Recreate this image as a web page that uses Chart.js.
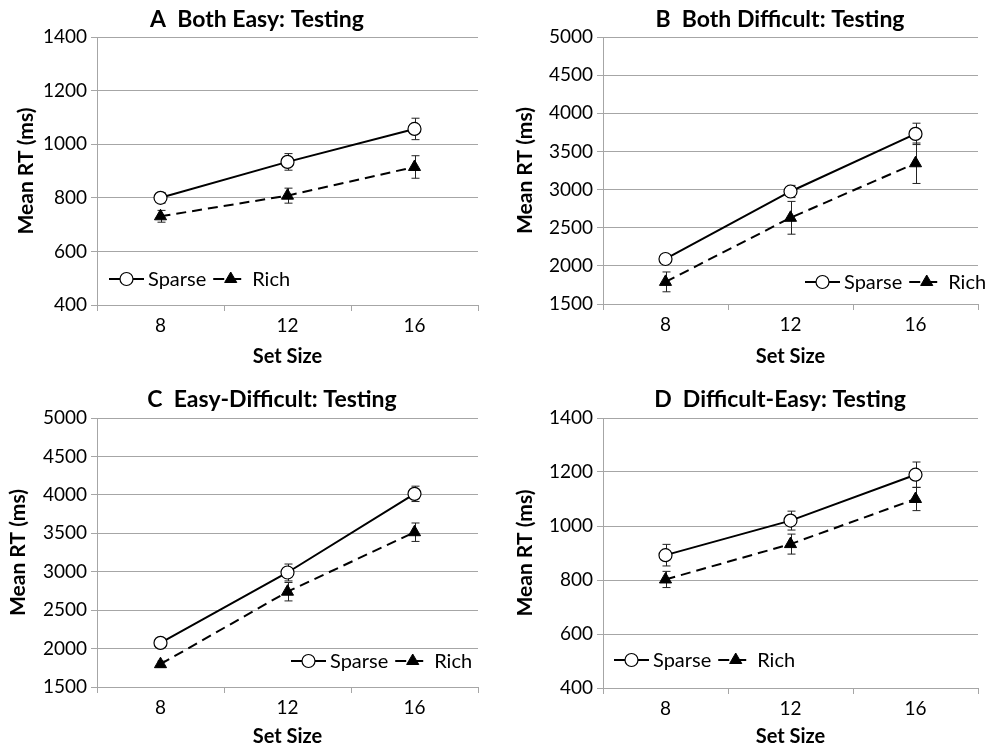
<!DOCTYPE html>
<html>
<head>
<meta charset="utf-8">
<script src="https://cdn.jsdelivr.net/npm/chart.js@4.4.1/dist/chart.umd.min.js"></script>
<style>
  body { margin: 0; background: #fff; }
  .panel { position: absolute; }
</style>
</head>
<body>
<div class="panel" style="left:0;top:0"><canvas id="chartA" width="493" height="375"></canvas></div>
<div class="panel" style="left:493px;top:0"><canvas id="chartB" width="493" height="375"></canvas></div>
<div class="panel" style="left:0;top:375px"><canvas id="chartC" width="493" height="376"></canvas></div>
<div class="panel" style="left:493px;top:375px"><canvas id="chartD" width="493" height="376"></canvas></div>
<script>
const setSizes = ["8", "12", "16"];

// A  Both Easy
const sparseA = [800, 934, 1057];
const sparseErrA = [20, 31, 40];
const richA = [731, 808, 915];
const richErrA = [22, 28, 42];

// B  Both Difficult
const sparseB = [2090, 2975, 3730];
const sparseErrB = [35, 80, 140];
const richB = [1790, 2630, 3345];
const richErrB = [130, 215, 265];

// C  Easy-Difficult
const sparseC = [2074, 2990, 4013];
const sparseErrC = [40, 110, 100];
const richC = [1797, 2740, 3514];
const richErrC = [40, 120, 120];

// D  Difficult-Easy
const sparseD = [892, 1020, 1190];
const sparseErrD = [40, 35, 47];
const richD = [802, 933, 1100];
const richErrD = [30, 37, 43];

const fastTicks = [400, 1400, 200];
const slowTicks = [1500, 5000, 500];

const FONT = "Lato, 'Open Sans', sans-serif";
const GRID = "#a6a6a6";

const errorBars = {
    id: "errorBars",
    beforeDatasetsDraw(chart) {
        const ctx = chart.ctx;
        const y = chart.scales.y;
        ctx.save();
        ctx.strokeStyle = "#222";
        ctx.lineWidth = 1;
        chart.data.datasets.forEach((ds, i) => {
            const meta = chart.getDatasetMeta(i);
            meta.data.forEach((pt, j) => {
                const hi = y.getPixelForValue(ds.data[j] + ds.errors[j]);
                const lo = y.getPixelForValue(ds.data[j] - ds.errors[j]);
                const x = Math.round(pt.x) + 0.5;
                ctx.beginPath();
                ctx.moveTo(x, hi); ctx.lineTo(x, lo);
                ctx.moveTo(x - 4, hi); ctx.lineTo(x + 4, hi);
                ctx.moveTo(x - 4, lo); ctx.lineTo(x + 4, lo);
                ctx.stroke();
            });
        });
        ctx.restore();
    }
};

function drawMarker(ctx, ds, x, y) {
    ctx.save();
    ctx.lineWidth = ds.pointBorderWidth;
    ctx.strokeStyle = ds.borderColor;
    ctx.fillStyle = ds.pointBackgroundColor;
    ctx.beginPath();
    const r = ds.pointRadius;
    if (ds.pointStyle === "circle") {
        ctx.arc(x, y, r, 0, Math.PI * 2);
    } else {
        const h = r * 1.5;
        ctx.moveTo(x, y - h * 2 / 3);
        ctx.lineTo(x + r * 0.87, y + h / 3);
        ctx.lineTo(x - r * 0.87, y + h / 3);
        ctx.closePath();
    }
    ctx.fill();
    ctx.stroke();
    ctx.restore();
}

const panelDecor = {
    id: "panelDecor",
    afterDraw(chart, args, opts) {
        const ctx = chart.ctx;
        ctx.save();
        ctx.fillStyle = "#000";
        ctx.font = "bold 23px " + FONT;
        ctx.textAlign = "center";
        ctx.textBaseline = "middle";
        ctx.fillText(opts.title, opts.titleX, opts.titleY);

        // legend: line sample with marker, then label
        ctx.font = "20px " + FONT;
        ctx.textAlign = "left";
        let x = opts.legendX;
        const y = opts.legendY;
        chart.data.datasets.forEach(ds => {
            const len = ds.borderDash ? 30 : 35;
            ctx.save();
            ctx.strokeStyle = ds.borderColor;
            ctx.lineWidth = ds.borderWidth;
            ctx.setLineDash(ds.borderDash ? [11, 6] : []);
            ctx.beginPath();
            ctx.moveTo(x, y); ctx.lineTo(x + len, y);
            ctx.stroke();
            ctx.restore();
            drawMarker(ctx, ds, x + 17.5, y);
            ctx.fillText(ds.label, x + 39, y + 1);
            x += 39 + ctx.measureText(ds.label).width + 7;
        });
        ctx.restore();
    }
};

function makePanel(id, title, ticks, sparse, sparseErr, rich, richErr, box) {
    new Chart(document.getElementById(id), {
        type: "line",
        data: {
            labels: setSizes,
            datasets: [
                {
                    label: "Sparse",
                    data: sparse,
                    errors: sparseErr,
                    borderColor: "#000",
                    borderWidth: 2,
                    pointStyle: "circle",
                    pointRadius: 6.5,
                    pointBorderWidth: 1.2,
                    pointBackgroundColor: "#fff",
                    pointBorderColor: "#000",
                },
                {
                    label: "Rich",
                    data: rich,
                    errors: richErr,
                    borderColor: "#000",
                    borderWidth: 2,
                    borderDash: [10, 6],
                    pointStyle: "triangle",
                    pointRadius: 7,
                    pointBorderWidth: 1,
                    pointBackgroundColor: "#000",
                    pointBorderColor: "#000",
                },
            ],
        },
        options: {
            responsive: false,
            animation: false,
            events: [],
            layout: { padding: { top: box.top, left: 0, right: box.right, bottom: 0 } },
            plugins: {
                legend: { display: false },
                title: { display: false },
                tooltip: { enabled: false },
                panelDecor: {
                    title: title,
                    titleX: box.titleX,
                    titleY: box.titleY,
                    legendX: box.legendX,
                    legendY: box.legendY,
                },
            },
            scales: {
                x: {
                    type: "category",
                    offset: true,
                    grid: { offset: true, drawOnChartArea: false, tickLength: 6, color: GRID },
                    border: { color: GRID },
                    ticks: { color: "#000", font: { family: FONT, size: 19 }, padding: 3 },
                    title: {
                        display: true,
                        text: "Set Size",
                        color: "#000",
                        font: { family: FONT, size: 20, weight: "bold" },
                        padding: { top: 0, bottom: box.xTitlePad },
                    },
                    afterFit(scale) { scale.height = box.xHeight; },
                },
                y: {
                    min: ticks[0],
                    max: ticks[1],
                    ticks: {
                        stepSize: ticks[2],
                        color: "#000",
                        font: { family: FONT, size: 19 },
                        padding: 4,
                        callback: v => String(v),
                    },
                    grid: { color: GRID, tickLength: 6 },
                    border: { color: GRID },
                    title: {
                        display: true,
                        text: "Mean RT (ms)",
                        color: "#000",
                        font: { family: FONT, size: 21, weight: "bold" },
                        padding: { top: box.yTitlePad, bottom: 0 },
                    },
                    afterFit(scale) { scale.width = box.yWidth; },
                },
            },
        },
        plugins: [errorBars, panelDecor],
    });
}

makePanel("chartA", "A  Both Easy: Testing", fastTicks, sparseA, sparseErrA, richA, richErrA,
    { top: 37, right: 15, yWidth: 97, xHeight: 70, xTitlePad: 6, yTitlePad: 14,
      titleX: 257, titleY: 20, legendX: 109, legendY: 279 });
makePanel("chartB", "B  Both Difficult: Testing", slowTicks, sparseB, sparseErrB, richB, richErrB,
    { top: 37, right: 1, yWidth: 110, xHeight: 71, xTitlePad: 6, yTitlePad: 20,
      titleX: 287, titleY: 20, legendX: 312, legendY: 282 });
makePanel("chartC", "C  Easy-Difficult: Testing", slowTicks, sparseC, sparseErrC, richC, richErrC,
    { top: 43, right: 15, yWidth: 97, xHeight: 64, xTitlePad: 2, yTitlePad: 6,
      titleX: 272, titleY: 25, legendX: 291, legendY: 286 });
makePanel("chartD", "D  Difficult-Easy: Testing", fastTicks, sparseD, sparseErrD, richD, richErrD,
    { top: 43, right: 1, yWidth: 110, xHeight: 63, xTitlePad: 2, yTitlePad: 20,
      titleX: 287, titleY: 25, legendX: 121, legendY: 285 });
</script>
</body>
</html>
